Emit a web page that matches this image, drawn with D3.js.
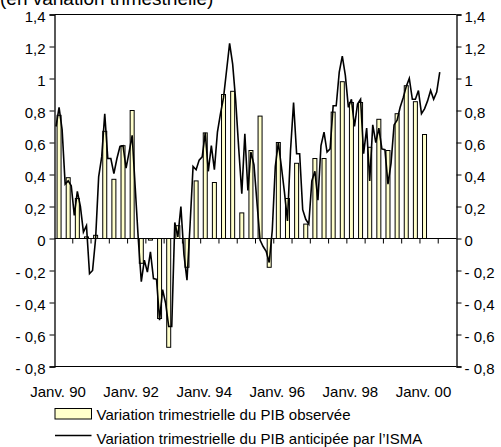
<!DOCTYPE html>
<html>
<head>
<meta charset="utf-8">
<script src="https://cdn.jsdelivr.net/npm/d3@7"></script>
<style>
  html, body { margin: 0; padding: 0; background: #fff; }
  svg { display: block; font-family: "Liberation Sans", Arial, sans-serif; }
</style>
</head>
<body>
<div id="chart"></div>
<script>
// ---- data ----
const title = "(en variation trimestrielle)";
const nMonths = 132; // Janv. 90 .. Déc. 00 (monthly categories)
const xTickLabels = ["Janv. 90", "Janv. 92", "Janv. 94", "Janv. 96", "Janv. 98", "Janv. 00"];
const xTickMonths = [0, 24, 48, 72, 96, 120];

const yTickValues = [-0.8, -0.6, -0.4, -0.2, 0, 0.2, 0.4, 0.6, 0.8, 1, 1.2, 1.4];
const yTickLabels = ["- 0,8", "- 0,6", "- 0,4", "- 0,2", "0", "0,2", "0,4", "0,6", "0,8", "1", "1,2", "1,4"];

const seriesNames = [
  "Variation trimestrielle du PIB observée",
  "Variation trimestrielle du PIB anticipée par l\u2019ISMA"
];

// observed quarterly GDP growth, plotted on the middle month of each quarter (Feb, May, Aug, Nov)
const observedMonths = d3.range(41).map(k => 1 + 3 * k);
const observedValues = [
  0.77, 0.38, 0.25, 0.01, 0.02, 0.67, 0.37, 0.58, 0.80, -0.155,
  -0.01, -0.50, -0.68, 0.08, -0.18, 0.36, 0.66, 0.35, 0.90, 0.92,
  0.16, 0.55, 0.765, -0.18, 0.60, 0.25, 0.47, 0.09, 0.50, 0.50,
  0.79, 0.98, 0.85, 0.85, 0.57, 0.745, 0.55, 0.78, 0.955, 0.855,
  0.65
];

// monthly ISMA-based estimate, from Janv. 90
const anticipatedValues = [
  0.70, 0.82, 0.68, 0.34, 0.36, 0.33, 0.145, 0.295, 0.20, 0.04,
  0.08, -0.22, -0.20, 0.0, 0.385, 0.51, 0.78, 0.50, 0.50, 0.405,
  0.50, 0.575, 0.58, 0.44, 0.54, 0.645, 0.32, 0.0, -0.27, -0.135,
  -0.21, -0.083, -0.25, -0.255, -0.51, -0.32, -0.405, -0.55, -0.55, 0.10,
  0.01, 0.20, -0.10, -0.26, 0.08, 0.45, 0.43, 0.49, 0.51, 0.66,
  0.42, 0.58, 0.43, 0.665, 0.78, 0.88, 1.05, 1.22, 1.09, 0.86,
  0.56, 0.28, 0.655, 0.30, 0.54, 0.46, 0.22, -0.01, -0.05, -0.08,
  -0.15, 0.05, 0.45, 0.60, 0.45, 0.29, 0.11, 0.55, 0.85, 0.53,
  0.53, 0.18, 0.12, 0.09, 0.36, 0.42, 0.24, 0.58, 0.665, 0.54,
  0.56, 0.83, 0.83, 1.04, 1.14, 1.02, 0.82, 0.87, 0.70, 0.84,
  0.87, 0.53, 0.69, 0.36, 0.71, 0.60, 0.69, 0.56, 0.555, 0.34,
  0.47, 0.71, 0.74, 0.82, 0.88, 0.95, 1.0, 0.87, 0.87, 0.925,
  0.78, 0.81, 0.86, 0.925, 0.87, 0.915, 1.04
];

// ---- layout ----
const W = 501, H = 447;
const plotLeft = 54.5, plotRight = 456.5, plotTop = 14.5, plotBottom = 366.5;
const fontSize = 15;
const barFill = "#ffffcc";

const svg = d3.select("#chart").append("svg")
  .attr("width", W).attr("height", H);

const months = d3.range(nMonths);
const x = d3.scaleBand().domain(months).range([plotLeft, plotRight]).paddingInner(0).paddingOuter(0);
const y = d3.scaleLinear().domain([-0.8, 1.4]).range([plotBottom, plotTop]);
const xc = m => x(m) + x.bandwidth() / 2;

// title
svg.append("text")
  .attr("x", 0).attr("y", 5)
  .attr("font-size", 19)
  .attr("fill", "#000")
  .text(title);

// frame (top & bottom)
svg.append("line").attr("x1", plotLeft).attr("x2", plotRight).attr("y1", plotTop).attr("y2", plotTop)
  .attr("stroke", "#000").attr("stroke-width", 1);
svg.append("line").attr("x1", plotLeft).attr("x2", plotRight).attr("y1", plotBottom).attr("y2", plotBottom)
  .attr("stroke", "#000").attr("stroke-width", 1);

// bars
const barW = 4;
svg.append("g").selectAll("rect")
  .data(observedValues)
  .join("rect")
  .attr("x", (d, i) => xc(observedMonths[i]) - barW / 2)
  .attr("y", d => y(Math.max(0, d)))
  .attr("width", barW)
  .attr("height", d => Math.abs(y(d) - y(0)))
  .attr("fill", barFill)
  .attr("stroke", "#000")
  .attr("stroke-width", 1);

// zero line with half-year tick marks
svg.append("line").attr("x1", plotLeft).attr("x2", plotRight).attr("y1", y(0)).attr("y2", y(0))
  .attr("stroke", "#000").attr("stroke-width", 1);
svg.append("g").selectAll("line")
  .data(d3.range(6, nMonths, 6))
  .join("line")
  .attr("x1", m => x(m)).attr("x2", m => x(m))
  .attr("y1", y(0)).attr("y2", y(0) + 5)
  .attr("stroke", "#000").attr("stroke-width", 1);

// line
const line = d3.line()
  .x((d, i) => xc(i))
  .y(d => y(d));
svg.append("path")
  .datum(anticipatedValues)
  .attr("d", line)
  .attr("fill", "none")
  .attr("stroke", "#000")
  .attr("stroke-width", 1.6)
  .attr("stroke-linejoin", "miter");

// y axes
const yAxisL = d3.axisLeft(y).tickValues(yTickValues)
  .tickFormat((d, i) => yTickLabels[i]).tickSize(5).tickPadding(4);
const yAxisR = d3.axisRight(y).tickValues(yTickValues)
  .tickFormat((d, i) => yTickLabels[i]).tickSize(5).tickPadding(3);

const gL = svg.append("g").attr("transform", `translate(${plotLeft},0)`).call(yAxisL);
const gR = svg.append("g").attr("transform", `translate(${plotRight},0)`).call(yAxisR);
[gL, gR].forEach(g => {
  g.select(".domain").attr("stroke", "#000").attr("stroke-width", 1.3);
  g.selectAll(".tick line").attr("stroke", "#000");
  g.selectAll("text").attr("font-size", fontSize).attr("font-family", "Liberation Sans, Arial, sans-serif")
    .attr("fill", "#000").attr("dy", "0.48em");
});

// x labels
svg.append("g").selectAll("text")
  .data(xTickLabels)
  .join("text")
  .attr("x", (d, i) => xc(xTickMonths[i]) + 2)
  .attr("y", 397)
  .attr("text-anchor", "middle")
  .attr("font-size", fontSize)
  .attr("fill", "#000")
  .text(d => d);

// legend
const lg = svg.append("g");
lg.append("rect").attr("x", 55).attr("y", 408.5).attr("width", 36.5).attr("height", 10.5)
  .attr("fill", barFill).attr("stroke", "#000").attr("stroke-width", 1);
lg.append("text").attr("x", 96.5).attr("y", 420).attr("font-size", fontSize).attr("fill", "#000")
  .text(seriesNames[0]);
lg.append("line").attr("x1", 55).attr("x2", 91.5).attr("y1", 435.5).attr("y2", 435.5)
  .attr("stroke", "#000").attr("stroke-width", 1.5);
lg.append("text").attr("x", 96.5).attr("y", 444).attr("font-size", fontSize).attr("fill", "#000")
  .text(seriesNames[1]);
</script>
</body>
</html>
